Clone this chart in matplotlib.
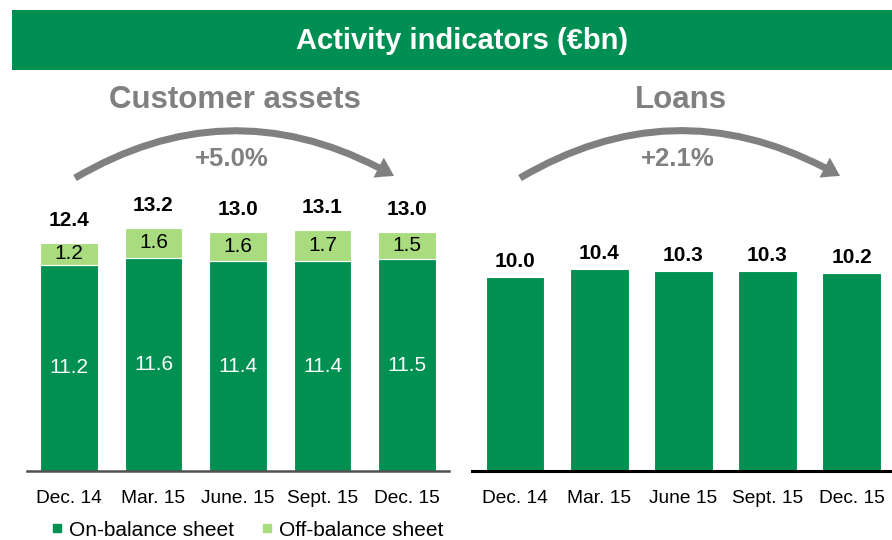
import matplotlib
matplotlib.use("Agg")
import matplotlib.pyplot as plt
from matplotlib.patches import FancyArrowPatch, Rectangle, ArrowStyle
from matplotlib.lines import Line2D

plt.rcParams['font.family'] = ['Liberation Sans', 'DejaVu Sans']

# ---- data ----
assets_periods = ["Dec. 14", "Mar. 15", "June. 15", "Sept. 15", "Dec. 15"]
on_balance = [11.2, 11.6, 11.4, 11.4, 11.5]
off_balance = [1.2, 1.6, 1.6, 1.7, 1.5]
assets_total = [12.4, 13.2, 13.0, 13.1, 13.0]
assets_growth = "+5.0%"

loans_periods = ["Dec. 14", "Mar. 15", "June 15", "Sept. 15", "Dec. 15"]
loans = [10.0, 10.4, 10.3, 10.3, 10.2]
loans_growth = "+2.1%"

title = "Activity indicators (€bn)"
legend_labels = ["On-balance sheet", "Off-balance sheet"]

# ---- style ----
W, H = 892, 540
DARK = "#009051"
LIGHT = "#A9DC7E"
GRAY = "#808080"

fig = plt.figure(figsize=(W / 100, H / 100), dpi=100)

def fx(x):
    return x / W

def fy(y):
    return 1 - y / H

# banner
fig.add_artist(Rectangle((fx(12), fy(70)), fx(892) - fx(12), fy(10) - fy(70),
                         transform=fig.transFigure, color="#008F53", lw=0))
fig.text(fx(462), fy(41), title, color="white", fontsize=21, fontweight="bold",
         ha="center", va="center")

# ---- left chart ----
ax1 = fig.add_axes([fx(27), fy(471), fx(449) - fx(27), fy(180) - fy(471)])
x1 = list(range(len(assets_periods)))
ax1.bar(x1, on_balance, width=0.686, color=DARK, edgecolor="white", linewidth=0.8)
ax1.bar(x1, off_balance, bottom=on_balance, width=0.686, color=LIGHT,
        edgecolor="white", linewidth=0.8)
ax1.set_xlim(-0.497, 4.497)
ax1.set_ylim(0, 291 / 18.4)
for i in x1:
    ax1.text(i, on_balance[i] / 2, f"{on_balance[i]:.1f}", color="white",
             fontsize=15, ha="center", va="center")
    ax1.text(i, on_balance[i] + off_balance[i] / 2, f"{off_balance[i]:.1f}",
             color="black", fontsize=15, ha="center", va="center")
    ax1.annotate(f"{assets_total[i]:.1f}", (i, on_balance[i] + off_balance[i]),
                 xytext=(0, 16), textcoords="offset points", ha="center",
                 va="center", fontsize=15, fontweight="bold")

# ---- right chart ----
ax2 = fig.add_axes([fx(472), fy(471), fx(892) - fx(472), fy(180) - fy(471)])
x2 = list(range(len(loans_periods)))
ax2.bar(x2, loans, width=0.70, color=DARK, edgecolor="white", linewidth=0.8)
ax2.set_xlim(-0.511, 4.48)
ax2.set_ylim(0, 291 / 19.4)
for i in x2:
    ax2.annotate(f"{loans[i]:.1f}", (i, loans[i]), xytext=(0, 11),
                 textcoords="offset points", ha="center", va="center",
                 fontsize=15, fontweight="bold")

for ax, labels, lc, lw in ((ax1, assets_periods, "#505050", 1.8),
                           (ax2, loans_periods, "black", 2.2)):
    ax.set_xticks(range(len(labels)))
    ax.set_xticklabels(labels, fontsize=13.8)
    ax.tick_params(axis="x", length=0, pad=14)
    ax.set_yticks([])
    for s in ("top", "left", "right"):
        ax.spines[s].set_visible(False)
    ax.spines["bottom"].set_color(lc)
    ax.spines["bottom"].set_linewidth(lw)
    ax.patch.set_alpha(0)

# subtitles and growth
fig.text(fx(235), fy(100), "Customer assets", color=GRAY, fontsize=22.5,
         fontweight="bold", ha="center", va="center")
fig.text(fx(681), fy(100), "Loans", color=GRAY, fontsize=22.5,
         fontweight="bold", ha="center", va="center")
fig.text(fx(232), fy(159), assets_growth, color=GRAY, fontsize=18.5,
         fontweight="bold", ha="center", va="center")
fig.text(fx(678), fy(159), loans_growth, color=GRAY, fontsize=18.5,
         fontweight="bold", ha="center", va="center")

style = ArrowStyle.Simple(head_length=0.7, head_width=0.9, tail_width=0.28)
for (xa, xb) in ((75, 394), (520, 840)):
    arr = FancyArrowPatch((fx(xa), fy(178)), (fx(xb), fy(176)),
                          transform=fig.transFigure, arrowstyle=style,
                          mutation_scale=18, connectionstyle="arc3,rad=-0.29",
                          color=GRAY, lw=0, shrinkA=0, shrinkB=0)
    fig.add_artist(arr)

# legend
handles = [Line2D([], [], marker="s", ls="", color=DARK, markersize=6),
           Line2D([], [], marker="s", ls="", color=LIGHT, markersize=6)]
fig.legend(handles, legend_labels, loc="center left",
           bbox_to_anchor=(fx(50), fy(530)), ncol=2, frameon=False,
           fontsize=15, handlelength=0.7, handletextpad=0.2,
           columnspacing=1.25, borderpad=0, borderaxespad=0)

fig.savefig("out.png", dpi=100)
